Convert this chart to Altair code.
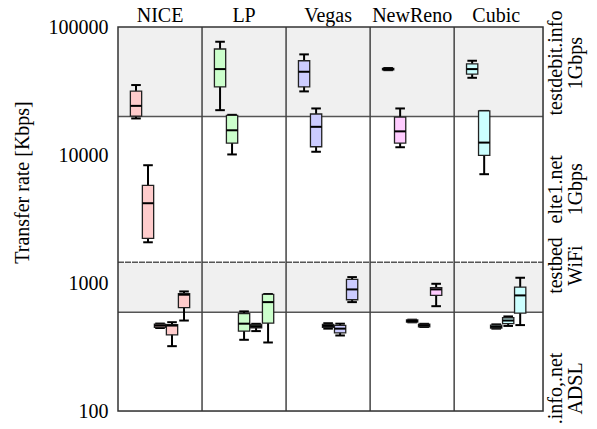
import altair as alt
import pandas as pd

# Congestion-control variants (one panel column each) and the five measured paths
protocols = ["NICE", "LP", "Vegas", "NewReno", "Cubic"]
paths = ["testdebit.info 1Gbps", "elte1.net 1Gbps", "testdebit.info ADSL",
         "elte1.net ADSL", "testbed WiFi"]

# Box-plot statistics in Kbps, one row of five paths per protocol
whisker_low = [
    19300, 2080, 445, 321, 509,      # NICE
    22400, 10100, 360, 421, 343,     # LP
    31400, 10600, 440, 389, 709,     # Vegas
    46000, 11500, 493, 453, 659,     # NewReno
    40100, 7080, 440, 462, 469,      # Cubic
]
box_low = [
    20100, 2230, 450, 394, 641,
    34000, 12400, 421, 447, 486,
    34100, 11600, 450, 408, 740,
    46300, 12400, 495, 455, 800,
    42900, 9950, 445, 481, 582,
]
median = [
    24200, 4200, 465, 465, 810,
    46900, 15600, 481, 460, 709,
    44700, 16600, 462, 440, 891,
    46900, 15300, 505, 468, 891,
    46900, 12500, 455, 509, 800,
]
box_high = [
    31600, 5800, 478, 472, 824,
    67300, 20400, 576, 474, 815,
    54500, 20900, 475, 466, 1067,
    47500, 19800, 515, 478, 918,
    51600, 22100, 468, 535, 929,
]
whisker_high = [
    35200, 8320, 482, 494, 859,
    76700, 20600, 600, 480, 820,
    61100, 23100, 485, 481, 1112,
    47800, 23100, 517, 480, 986,
    54500, 22100, 475, 548, 1099,
]

fills = ["#ffcccc", "#ccffcc", "#ccccff", "#ffccff", "#ccffff"]
dashes = [[1, 0], [4, 2], [2, 2], [1, 2], [4, 2, 1, 2]]

# Horizontal bands grouping the paths (bottom to top)
band_edges = [100, 590, 1450, 20000, 100000]
band_fill = ["#ffffff", "#f0f0f0", "#ffffff", "#f0f0f0"]
band_labels = [".info,.net\nADSL", "testbed\nWiFi", "elte1.net\n1Gbps", "testdebit.info\n1Gbps"]
band_label_at = [150, 1370, 5400, 52300]

W, H = 425, 384
SLOTS = 7          # slots per protocol column
FONT = "Liberation Serif"

rows = []
for i, p in enumerate(protocols):
    for j, path in enumerate(paths):
        k = i * len(paths) + j
        rows.append(dict(protocol=p, path=path, pos=SLOTS * i + 1.5 + j,
                         lo=whisker_low[k], q1=box_low[k], med=median[k],
                         q3=box_high[k], hi=whisker_high[k]))
boxes = pd.DataFrame(rows)

bands = pd.DataFrame({
    "lo": band_edges[:-1], "hi": band_edges[1:], "fill": band_fill,
    "label": band_labels, "at": band_label_at,
})
edges = pd.DataFrame({"edge": band_edges[1:-1], "dash": ["solid", "dotted", "solid"]})
columns = pd.DataFrame({"protocol": protocols,
                        "ctr": [SLOTS * i + SLOTS / 2 for i in range(len(protocols))],
                        "div": [SLOTS * i for i in range(len(protocols))]})

xs = alt.Scale(domain=[0, 35.4], nice=False, zero=False)
ys = alt.Scale(type="log", domain=[100, 100000], nice=False)
yaxis = alt.Axis(values=[100, 1000, 10000, 100000], format="d", grid=False, ticks=False,
                 domain=False, labelFont=FONT, labelFontSize=20, labelFontWeight="normal",
                 labelColor="black", labelPadding=10, title="Transfer rate [Kbps]",
                 titleFont=FONT, titleFontSize=20, titleFontWeight="normal",
                 titleColor="black", titleAngle=270, titleAlign="center",
                 titleBaseline="alphabetic", titleX=-90, titleY=155)


def Y(field):
    return alt.Y(field, scale=ys, axis=yaxis)


band_layer = alt.Chart(bands).mark_rect().encode(
    x=alt.value(0), x2=alt.value(W),
    y=Y("lo:Q"), y2="hi:Q",
    fill=alt.Fill("fill:N", scale=None),
)

edge_layer = alt.Chart(edges).mark_rule(color="#555555", strokeWidth=1.5).encode(
    x=alt.value(0), x2=alt.value(W),
    y=Y("edge:Q"),
    strokeDash=alt.StrokeDash("dash:N", scale=alt.Scale(domain=["solid", "dotted"],
                                                        range=[[1, 0], [6, 1]]), legend=None),
)

divider_layer = alt.Chart(columns[columns["div"] > 0]).mark_rule(
    color="#444444", strokeWidth=1.5).encode(
    x=alt.X("div:Q", scale=xs, axis=None), y=alt.value(0), y2=alt.value(H),
)

base = alt.Chart(boxes)

whiskers = base.mark_rule(color="black", strokeWidth=2).encode(
    x=alt.X("pos:Q", scale=xs, axis=None),
    y=Y("lo:Q"), y2="hi:Q",
)

caps_lo = base.transform_calculate(a="datum.pos - 0.4", b="datum.pos + 0.4").mark_rule(
    color="black", strokeWidth=2).encode(
    x=alt.X("a:Q", scale=xs, axis=None), x2="b:Q",
    y=Y("lo:Q"),
)
caps_hi = base.transform_calculate(a="datum.pos - 0.4", b="datum.pos + 0.4").mark_rule(
    color="black", strokeWidth=2).encode(
    x=alt.X("a:Q", scale=xs, axis=None), x2="b:Q",
    y=Y("hi:Q"),
)

box_rects = base.transform_calculate(a="datum.pos - 0.47", b="datum.pos + 0.47").mark_rect(
    stroke="#222222", strokeWidth=1.3).encode(
    x=alt.X("a:Q", scale=xs, axis=None), x2="b:Q",
    y=Y("q1:Q"), y2="q3:Q",
    fill=alt.Fill("protocol:N", scale=alt.Scale(domain=protocols, range=fills), legend=None),
    strokeDash=alt.StrokeDash("protocol:N", scale=alt.Scale(domain=protocols, range=dashes),
                              legend=None),
)

medians = base.transform_calculate(a="datum.pos - 0.47", b="datum.pos + 0.47").mark_rule(
    color="black", strokeWidth=2).encode(
    x=alt.X("a:Q", scale=xs, axis=None), x2="b:Q",
    y=Y("med:Q"),
)

titles = alt.Chart(columns).mark_text(font=FONT, fontSize=20, fontWeight="normal",
                                      baseline="alphabetic", color="black").encode(
    x=alt.X("ctr:Q", scale=xs, axis=None), y=alt.value(-5), text="protocol:N",
)

band_text = alt.Chart(bands).mark_text(font=FONT, fontSize=20, fontWeight="normal", angle=270,
                                       align="center", baseline="top", lineBreak="\n",
                                       lineHeight=20, color="black").encode(
    x=alt.value(W + 3), y=Y("at:Q"), text="label:N",
)

frame = alt.Chart(pd.DataFrame({"k": [0]})).mark_rect(
    fill=None, stroke="#333333", strokeWidth=1.5).encode(
    x=alt.value(0), x2=alt.value(W), y=alt.value(0), y2=alt.value(H),
)

chart = alt.layer(
    band_layer, edge_layer, divider_layer, whiskers, caps_lo, caps_hi,
    box_rects, medians, titles, band_text, frame,
).properties(
    width=W, height=H, autosize="none",
    padding={"left": 118, "top": 27, "right": 54, "bottom": 18},
).configure_view(stroke=None).configure(font=FONT, background="white")

chart.save("out.html", embed_options={"renderer": "svg", "actions": False})
